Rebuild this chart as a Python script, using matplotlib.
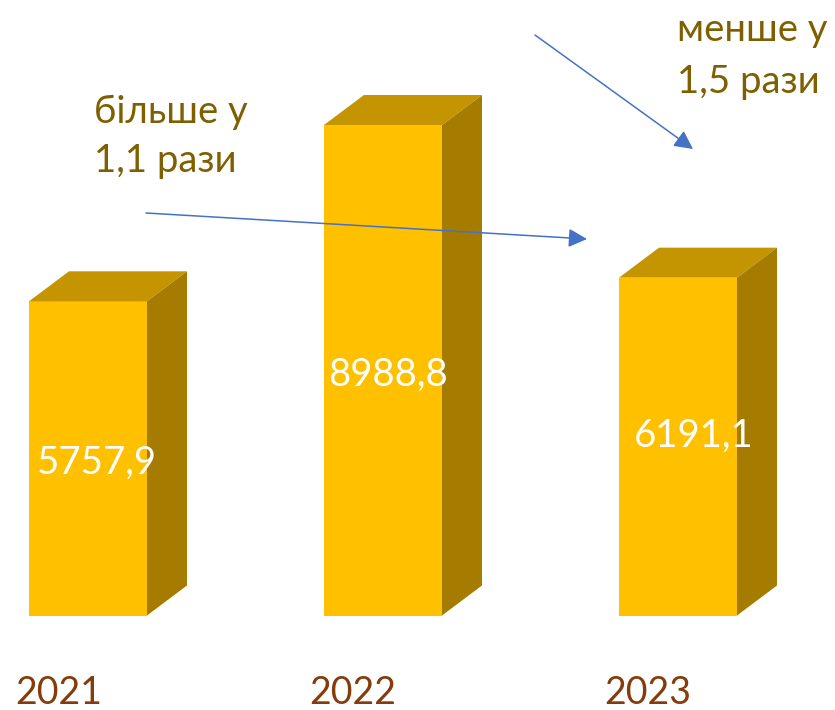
import matplotlib
matplotlib.use("Agg")
import matplotlib.pyplot as plt
from matplotlib.patches import Polygon

plt.rcParams["font.family"] = ["Lato", "DejaVu Sans"]

years = ["2021", "2022", "2023"]
values = [5757.9, 8988.8, 6191.1]
value_labels = ["5757,9", "8988,8", "6191,1"]

FRONT = "#FFC000"
TOP = "#C49500"
SIDE = "#A67C00"
BROWN = "#7F6000"
YEAR_COLOR = "#843C0C"
ARROW = "#4472C4"

W, H = 835, 710
fig = plt.figure(figsize=(W / 100, H / 100), dpi=100)
ax = fig.add_axes([0, 0, 1, 1])
ax.set_xlim(0, W)
ax.set_ylim(H, 0)
ax.axis("off")

# pixels per unit: 2022 bar is 490 px tall
scale = 490.5 / 8988.8
base_y = 615.5
bar_w = 118
dx, dy = 40, 30
lefts = [29, 324, 619]
label_x = [96.5, 388.5, 693.5]
label_y = [463, 375, 436]
year_x = [59, 353, 648]

for left, val, lab, lx, ly, yr, yx in zip(lefts, values, value_labels, label_x, label_y, years, year_x):
    top_y = base_y - val * scale
    right = left + bar_w
    ax.add_patch(Polygon([(left, base_y), (right, base_y), (right, top_y), (left, top_y)],
                         facecolor=FRONT, edgecolor="none"))
    ax.add_patch(Polygon([(left, top_y), (right, top_y), (right + dx, top_y - dy), (left + dx, top_y - dy)],
                         facecolor=TOP, edgecolor="none"))
    ax.add_patch(Polygon([(right, base_y), (right + dx, base_y - dy), (right + dx, top_y - dy), (right, top_y)],
                         facecolor=SIDE, edgecolor="none"))
    ax.text(lx, ly, lab, color="white", fontsize=27.5, ha="center", va="center")
    ax.text(yx, 692.5, yr, color=YEAR_COLOR, fontsize=27, ha="center", va="center")

ax.text(94, 112, "більше у", color=BROWN, fontsize=27.5, ha="left", va="center")
ax.text(94, 161, "1,1 рази", color=BROWN, fontsize=27.5, ha="left", va="center")
ax.text(677, 30, "менше у", color=BROWN, fontsize=27.5, ha="left", va="center")
ax.text(677, 82, "1,5 рази", color=BROWN, fontsize=27.5, ha="left", va="center")

for start, end in [((146, 213), (587, 239)), ((535, 35), (693, 149))]:
    ax.annotate("", xy=end, xytext=start,
                arrowprops=dict(arrowstyle="-|>,head_length=0.75,head_width=0.38",
                                color=ARROW, lw=1.1, mutation_scale=15,
                                shrinkA=0, shrinkB=0))

fig.savefig("out.png", dpi=100)
